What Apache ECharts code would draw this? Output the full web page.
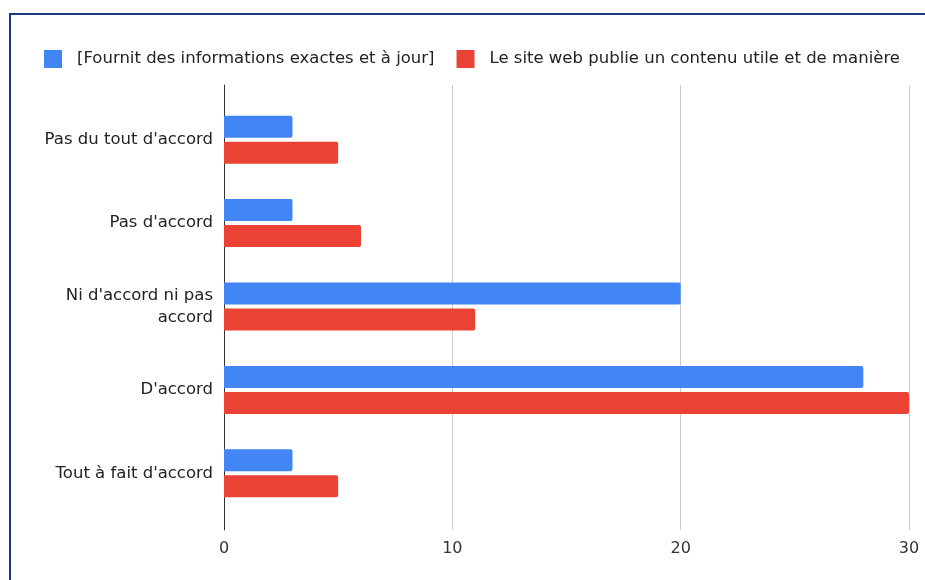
<!DOCTYPE html>
<html>
<head>
<meta charset="utf-8">
<script src="https://cdn.jsdelivr.net/npm/echarts@6/dist/echarts.min.js"></script>
<style>
  html, body { margin: 0; padding: 0; background: #fff; overflow: hidden; }
  #frame {
    position: absolute; left: 9px; top: 13px; width: 1000px; height: 700px;
    border-top: 2px solid #1c3a86; border-left: 2px solid #1c3a86;
  }
  #chart { position: absolute; left: 0; top: 0; width: 925px; height: 580px; }
</style>
</head>
<body>
<div id="frame"></div>
<div id="chart"></div>
<script>
// catégories (du haut vers le bas)
const categories = [
  "Pas du tout d'accord",
  "Pas d'accord",
  "Ni d'accord ni pas\naccord",
  "D'accord",
  "Tout à fait d'accord"
]
const seriesNames = [
  '[Fournit des informations exactes et à jour]',
  'Le site web publie un contenu utile et de manière'
]
const exactValues = [3, 3, 20, 28, 3]
const utileValues = [5, 6, 11, 30, 5]
const xTicks = [0, 10, 20, 30]

const chart = echarts.init(document.getElementById('chart'), null, { renderer: 'canvas' })
const font = '"DejaVu Sans", Arial, sans-serif'

const option = {
  animation: false,
  color: ['#4285f4', '#ea4335'],
  legend: {
    left: 39,
    top: 45,
    itemWidth: 18,
    itemHeight: 18,
    itemGap: 22,
    icon: 'rect',
    textStyle: {
      fontFamily: font,
      fontSize: 16.5,
      color: '#222',
      padding: [0, 0, 0, 10]
    },
    data: seriesNames
  },
  grid: [
    // grille d'affichage : lignes verticales et ligne de base
    { left: 224, right: 16, top: 85, bottom: 50 },
    // grille des barres, un peu rentrée en haut et en bas
    { left: 224, right: 16, top: 98, bottom: 65 }
  ],
  xAxis: [
    {
      gridIndex: 0,
      type: 'value',
      min: xTicks[0],
      max: xTicks[xTicks.length - 1],
      interval: 10,
      axisLine: { show: false },
      axisTick: { show: false },
      splitLine: { lineStyle: { color: '#cccccc', width: 1 } },
      axisLabel: { fontFamily: font, fontSize: 16, color: '#333', margin: 11 }
    },
    {
      gridIndex: 1,
      type: 'value',
      min: xTicks[0],
      max: xTicks[xTicks.length - 1],
      show: false
    }
  ],
  yAxis: [
    {
      gridIndex: 0,
      type: 'category',
      inverse: true,
      data: categories,
      axisLine: { show: true, lineStyle: { color: '#333', width: 1 } },
      axisTick: { show: false },
      axisLabel: { show: false }
    },
    {
      gridIndex: 1,
      type: 'category',
      inverse: true,
      data: categories,
      axisLine: { show: false },
      axisTick: { show: false },
      axisLabel: {
        fontFamily: font,
        fontSize: 16.5,
        color: '#222',
        margin: 11,
        lineHeight: 22,
        align: 'right'
      }
    }
  ],
  series: [
    {
      name: seriesNames[0],
      type: 'bar',
      xAxisIndex: 1,
      yAxisIndex: 1,
      data: exactValues,
      barWidth: 22,
      barGap: '18%',
      itemStyle: { borderRadius: [0, 2, 2, 0] }
    },
    {
      name: seriesNames[1],
      type: 'bar',
      xAxisIndex: 1,
      yAxisIndex: 1,
      data: utileValues,
      barWidth: 22,
      barGap: '18%',
      itemStyle: { borderRadius: [0, 2, 2, 0] }
    }
  ]
}

chart.setOption(option)
</script>
</body>
</html>
